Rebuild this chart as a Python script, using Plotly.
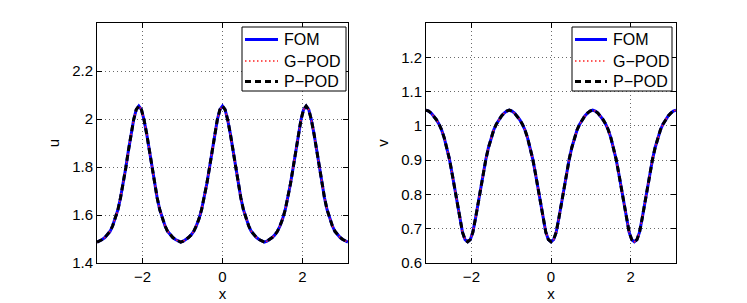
import numpy as np
import plotly.graph_objects as go

# x samples over [-pi, pi]
x = np.linspace(-np.pi, np.pi, 97)

# u(x)
u_fom = [
    1.487, 1.491, 1.498, 1.506, 1.517, 1.532, 1.555, 1.584, 1.622, 1.672, 1.730, 1.796, 1.868, 1.938, 1.996, 2.039,
    2.054, 2.039, 1.996, 1.938, 1.868, 1.796, 1.730, 1.672, 1.622, 1.584, 1.555, 1.532, 1.517, 1.506, 1.498, 1.491,
    1.487, 1.491, 1.498, 1.506, 1.517, 1.532, 1.555, 1.584, 1.622, 1.672, 1.730, 1.796, 1.868, 1.938, 1.996, 2.039,
    2.054, 2.039, 1.996, 1.938, 1.868, 1.796, 1.730, 1.672, 1.622, 1.584, 1.555, 1.532, 1.517, 1.506, 1.498, 1.491,
    1.487, 1.491, 1.498, 1.506, 1.517, 1.532, 1.555, 1.584, 1.622, 1.672, 1.730, 1.796, 1.868, 1.938, 1.996, 2.039,
    2.054, 2.039, 1.996, 1.938, 1.868, 1.796, 1.730, 1.672, 1.622, 1.584, 1.555, 1.532, 1.517, 1.506, 1.498, 1.491,
    1.487,
]
u_gpod = list(u_fom)
u_ppod = list(u_fom)

# v(x)
v_fom = [
    1.046, 1.043, 1.037, 1.029, 1.018, 1.005, 0.988, 0.965, 0.937, 0.903, 0.862, 0.820, 0.775, 0.730, 0.690, 0.668,
    0.662, 0.668, 0.690, 0.730, 0.775, 0.820, 0.862, 0.903, 0.937, 0.965, 0.988, 1.005, 1.018, 1.029, 1.037, 1.043,
    1.046, 1.043, 1.037, 1.029, 1.018, 1.005, 0.988, 0.965, 0.937, 0.903, 0.862, 0.820, 0.775, 0.730, 0.690, 0.668,
    0.662, 0.668, 0.690, 0.730, 0.775, 0.820, 0.862, 0.903, 0.937, 0.965, 0.988, 1.005, 1.018, 1.029, 1.037, 1.043,
    1.046, 1.043, 1.037, 1.029, 1.018, 1.005, 0.988, 0.965, 0.937, 0.903, 0.862, 0.820, 0.775, 0.730, 0.690, 0.668,
    0.662, 0.668, 0.690, 0.730, 0.775, 0.820, 0.862, 0.903, 0.937, 0.965, 0.988, 1.005, 1.018, 1.029, 1.037, 1.043,
    1.046,
]
v_gpod = list(v_fom)
v_ppod = list(v_fom)

series_names = ["FOM", "G\u2212POD", "P\u2212POD"]
x_ticks = [-2, 0, 2]
u_ticks = [1.4, 1.6, 1.8, 2.0, 2.2]
v_ticks = [0.6, 0.7, 0.8, 0.9, 1.0, 1.1, 1.2]

styles = [
    dict(color="#0000ff", width=3, dash="solid"),
    dict(color="#ff2020", width=1.5, dash="1.5px,2.5px"),
    dict(color="#000000", width=3, dash="6px,4px"),
]

fig = go.Figure()
for name, ys, st in zip(series_names, [u_fom, u_gpod, u_ppod], styles):
    fig.add_trace(go.Scatter(x=x, y=ys, mode="lines", name=name, line=st,
                             xaxis="x", yaxis="y", showlegend=False))
for name, ys, st in zip(series_names, [v_fom, v_gpod, v_ppod], styles):
    fig.add_trace(go.Scatter(x=x, y=ys, mode="lines", name=name, line=st,
                             xaxis="x2", yaxis="y2", showlegend=False))

FAM = "Liberation Sans, Arial, sans-serif"
font = dict(family=FAM, size=15, color="black")
leg_font = dict(family=FAM, size=16, color="black")
axis_common = dict(showline=True, linecolor="black", linewidth=1, mirror="ticks",
                   ticks="inside", ticklen=5, tickcolor="black",
                   showgrid=True, gridcolor="#6a6a6a", griddash="1px,3px", gridwidth=1,
                   zeroline=False, tickfont=font, automargin=False)

W, H = 747, 303
def px_x(p):
    return p / W
def px_y(p):
    return 1 - p / H

# legend boxes drawn in paper space (box, sample line span, text start, row centres)
legend_specs = [
    dict(box=(242, 27, 346, 91), line=(245, 278), text=282, rows=(39.5, 61, 81.5)),
    dict(box=(572, 27, 672, 91), line=(575, 607), text=611, rows=(39.5, 61, 81.5)),
]
shapes = []
annotations = []
for spec in legend_specs:
    x0, y0, x1, y1 = spec["box"]
    shapes.append(dict(type="rect", xref="paper", yref="paper",
                       x0=px_x(x0), x1=px_x(x1), y0=px_y(y1), y1=px_y(y0),
                       fillcolor="white", line=dict(color="black", width=1), layer="above"))
    for name, st, ry in zip(series_names, styles, spec["rows"]):
        shapes.append(dict(type="line", xref="paper", yref="paper",
                           x0=px_x(spec["line"][0]), x1=px_x(spec["line"][1]),
                           y0=px_y(ry), y1=px_y(ry), line=st, layer="above"))
        annotations.append(dict(text=name, xref="paper", yref="paper",
                                x=px_x(spec["text"]), y=px_y(ry), xanchor="left", yanchor="middle",
                                showarrow=False, font=leg_font))

fig.update_layout(
    width=W, height=H,
    margin=dict(l=0, r=0, t=0, b=0),
    paper_bgcolor="white", plot_bgcolor="white",
    font=font, showlegend=False,
    xaxis=dict(domain=[px_x(97), px_x(348)], range=[-np.pi, np.pi], tickvals=x_ticks,
               title=dict(text="x", font=font, standoff=2), anchor="y", **axis_common),
    yaxis=dict(domain=[px_y(263), px_y(23)], range=[1.4, 2.4], tickvals=u_ticks,
               title=dict(text="u", font=font, standoff=8), anchor="x", **axis_common),
    xaxis2=dict(domain=[px_x(426), px_x(676)], range=[-np.pi, np.pi], tickvals=x_ticks,
                title=dict(text="x", font=font, standoff=2), anchor="y2", **axis_common),
    yaxis2=dict(domain=[px_y(263), px_y(23)], range=[0.6, 1.3], tickvals=v_ticks,
                title=dict(text="v", font=font, standoff=8), anchor="x2", **axis_common),
    shapes=shapes,
    annotations=annotations,
)

fig.write_html("out.html", config={"displayModeBar": False},
               post_script="document.body.style.margin='0';document.body.style.overflow='hidden';")
